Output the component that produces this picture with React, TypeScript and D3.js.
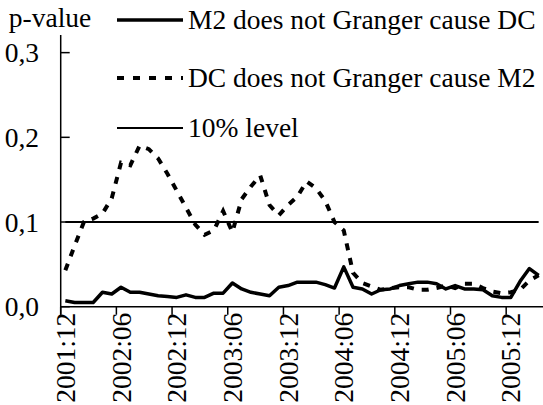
import * as d3 from 'd3';

// ---------------------------------------------------------------------------
// Data
// ---------------------------------------------------------------------------

const months = [
  '2001:12',
  '2002:01', '2002:02', '2002:03', '2002:04', '2002:05', '2002:06',
  '2002:07', '2002:08', '2002:09', '2002:10', '2002:11', '2002:12',
  '2003:01', '2003:02', '2003:03', '2003:04', '2003:05', '2003:06',
  '2003:07', '2003:08', '2003:09', '2003:10', '2003:11', '2003:12',
  '2004:01', '2004:02', '2004:03', '2004:04', '2004:05', '2004:06',
  '2004:07', '2004:08', '2004:09', '2004:10', '2004:11', '2004:12',
  '2005:01', '2005:02', '2005:03', '2005:04', '2005:05', '2005:06',
  '2005:07', '2005:08', '2005:09', '2005:10', '2005:11', '2005:12',
  '2006:01', '2006:02', '2006:03',
];

const tickLabels = [
  '2001:12', '2002:06', '2002:12', '2003:06', '2003:12',
  '2004:06', '2004:12', '2005:06', '2005:12',
];

// p-values: M2 does not Granger cause DC
const m2NotCauseDc = [
  0.007, 0.005, 0.005, 0.005, 0.017, 0.015, 0.023, 0.017, 0.017, 0.015,
  0.013, 0.012, 0.011, 0.014, 0.011, 0.011, 0.016, 0.016, 0.028, 0.021,
  0.017, 0.015, 0.013, 0.023, 0.025, 0.029, 0.029, 0.029, 0.026, 0.022,
  0.047, 0.023, 0.021, 0.015, 0.020, 0.021, 0.025, 0.027, 0.029, 0.029,
  0.027, 0.021, 0.025, 0.021, 0.021, 0.020, 0.013, 0.011, 0.011, 0.030,
  0.045, 0.037,
];

// p-values: DC does not Granger cause M2
const dcNotCauseM2 = [
  0.043, 0.072, 0.100, 0.104, 0.110, 0.128, 0.170, 0.167, 0.190, 0.186,
  0.175, 0.157, 0.137, 0.117, 0.097, 0.085, 0.090, 0.113, 0.088, 0.127,
  0.142, 0.155, 0.120, 0.108, 0.120, 0.130, 0.148, 0.140, 0.125, 0.100,
  0.090, 0.040, 0.028, 0.024, 0.020, 0.022, 0.023, 0.023, 0.020, 0.020,
  0.022, 0.025, 0.022, 0.027, 0.027, 0.022, 0.018, 0.016, 0.017, 0.020,
  0.031, 0.037,
];

const level10 = months.map(() => 0.1);

const yTicks = [0, 0.1, 0.2, 0.3];

// ---------------------------------------------------------------------------
// Layout
// ---------------------------------------------------------------------------

const W = 543;
const H = 405;
const FONT = 'Liberation Serif';
const FS = 27.5;
const LEFT = 60.7;
const BOTTOM = 306.7;

const textStyle = { fontFamily: FONT, fontSize: FS };

export default function App() {
  const x = d3.scaleBand<string>().domain(months).range([LEFT, 543.3]);
  const cx = (m: string) => (x(m) ?? 0) + x.bandwidth() / 2;
  const y = d3.scaleLinear().domain([0, 0.32]).range([BOTTOM, 35.7]);

  const line = d3
    .line<number>()
    .x((_d, i) => cx(months[i]))
    .y((d) => y(d));

  const legend = [
    { label: 'M2 does not Granger cause DC', y: 20, width: 3.5, dash: 'none' },
    { label: 'DC does not Granger cause M2', y: 78, width: 4, dash: '7,9' },
    { label: '10% level', y: 128, width: 2, dash: 'none' },
  ];

  return (
    <svg
      width={W}
      height={H}
      style={{ position: 'absolute', left: 0, top: 0, background: '#fff' }}
    >
      <rect width={W} height={H} fill="#fff" />

      {/* series */}
      <path d={line(level10) ?? ''} fill="none" stroke="#000" strokeWidth={2} />
      <path
        d={line(dcNotCauseM2) ?? ''}
        fill="none"
        stroke="#000"
        strokeWidth={4}
        strokeDasharray="7,8"
      />
      <path
        d={line(m2NotCauseDc) ?? ''}
        fill="none"
        stroke="#000"
        strokeWidth={3.5}
        strokeLinejoin="round"
      />

      {/* y axis */}
      <line x1={LEFT} x2={LEFT} y1={35} y2={BOTTOM + 8} stroke="#000" strokeWidth={1.5} />
      {yTicks.map((t) => (
        <g key={t}>
          <line x1={LEFT} x2={LEFT + 9} y1={y(t)} y2={y(t)} stroke="#000" strokeWidth={1.5} />
          <text
            x={39}
            y={y(t)}
            textAnchor="end"
            dominantBaseline="central"
            style={textStyle}
          >
            {t.toFixed(1).replace('.', ',')}
          </text>
        </g>
      ))}
      <text x={50} y={27} textAnchor="middle" style={textStyle}>
        p-value
      </text>

      {/* x axis */}
      <line x1={LEFT} x2={W} y1={BOTTOM} y2={BOTTOM} stroke="#000" strokeWidth={1.5} />
      {tickLabels.map((m) => (
        <g key={m}>
          <line
            x1={x(m)}
            x2={x(m)}
            y1={BOTTOM}
            y2={BOTTOM + 8}
            stroke="#000"
            strokeWidth={1.5}
          />
          <text
            transform={`translate(${cx(m)},${BOTTOM + 6}) rotate(-90)`}
            textAnchor="end"
            dominantBaseline="central"
            style={textStyle}
          >
            {m}
          </text>
        </g>
      ))}

      {/* legend */}
      {legend.map((l) => (
        <g key={l.label}>
          <line
            x1={117}
            x2={183}
            y1={l.y}
            y2={l.y}
            stroke="#000"
            strokeWidth={l.width}
            strokeDasharray={l.dash}
          />
          <text x={188} y={l.y + 9} style={textStyle}>
            {l.label}
          </text>
        </g>
      ))}
    </svg>
  );
}
